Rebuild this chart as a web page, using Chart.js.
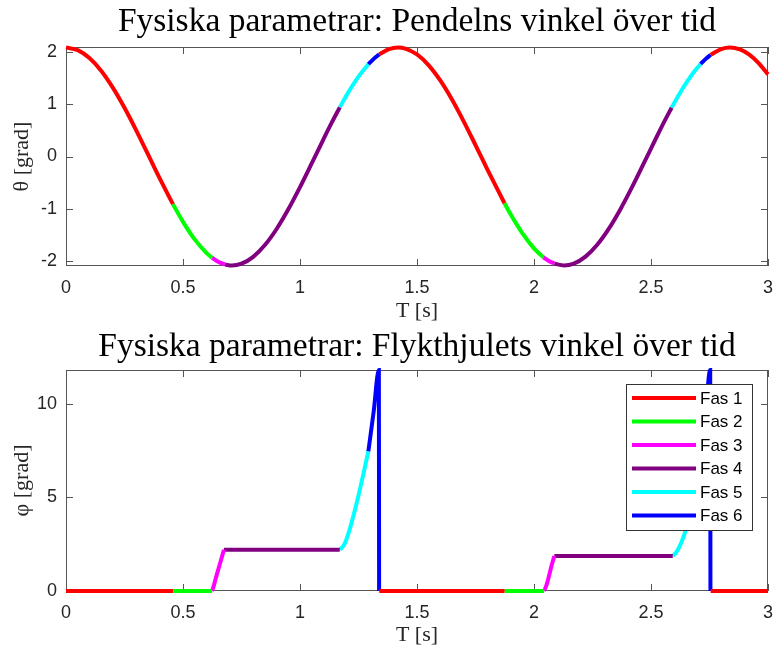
<!DOCTYPE html>
<html>
<head>
<meta charset="utf-8">
<script src="https://cdn.jsdelivr.net/npm/chart.js"></script>
<style>
 body{margin:0;background:#fff;}
 .ruta{position:absolute;left:0;width:777px;}
</style>
</head>
<body>
<div class="ruta" style="top:0;height:325px"><canvas id="chartTheta" width="777" height="325"></canvas></div>
<div class="ruta" style="top:325px;height:324px"><canvas id="chartPhi" width="777" height="324"></canvas></div>
<script>
// [tid, vinkel], null = avbrott mellan perioderna
const fasNamn = ["Fas 1","Fas 2","Fas 3","Fas 4","Fas 5","Fas 6"]
const fasFarg = ["#ff0000","#00ff00","#ff00ff","#800080","#00ffff","#0000ff"]

const xTicks = [0,0.5,1,1.5,2,2.5,3]
const thetaTicks = [-2,-1,0,1,2]
const phiTicks = [0,5,10]

// 1. PENDELNS VINKEL
const fas1Theta = [[0,2.09],[0.05,2.039],[0.1,1.888],[0.15,1.646],[0.2,1.322],[0.25,0.935],[0.3,0.502],[0.35,0.044],[0.4,-0.416],[0.457,-0.914], null,
 [1.339,1.96],[1.38,2.059],[1.419,2.09],[1.45,2.07],[1.5,1.957],[1.55,1.748],[1.6,1.454],[1.65,1.089],[1.7,0.67],[1.75,0.219],[1.8,-0.242],[1.874,-0.897], null,
 [2.755,1.95],[2.8,2.061],[2.838,2.09],[2.88,2.054],[2.92,1.954],[2.96,1.792],[3,1.575]]
const fas2Theta = [[0.457,-0.914],[0.5,-1.253],[0.55,-1.59],[0.6,-1.849],[0.624,-1.942], null,
 [1.874,-0.897],[1.9,-1.109],[1.95,-1.471],[2,-1.761],[2.04,-1.932]]
const fas3Theta = [[0.624,-1.942],[0.65,-2.018],[0.68,-2.072], null,
 [2.04,-1.932],[2.06,-1.994],[2.087,-2.055]]
const fas4Theta = [[0.68,-2.072],[0.709,-2.09],[0.75,-2.056],[0.8,-1.924],[0.85,-1.698],[0.9,-1.39],[0.95,-1.013],[1,-0.587],[1.05,-0.132],[1.1,0.329],[1.135,0.644],[1.17,0.943], null,
 [2.087,-2.055],[2.128,-2.09],[2.17,-2.055],[2.22,-1.921],[2.27,-1.693],[2.32,-1.383],[2.37,-1.005],[2.42,-0.578],[2.47,-0.122],[2.52,0.338],[2.56,0.697],[2.588,0.935]]
const fas5Theta = [[1.17,0.943],[1.2,1.182],[1.25,1.531],[1.292,1.768], null,
 [2.588,0.935],[2.62,1.19],[2.66,1.473],[2.69,1.657],[2.712,1.773]]
const fas6Theta = [[1.292,1.768],[1.315,1.872],[1.339,1.96], null,
 [2.712,1.773],[2.735,1.877],[2.755,1.95]]

// 2. FLYKTHJULETS VINKEL
const fas1Phi = [[0,0],[0.457,0], null, [1.339,0],[1.874,0], null, [2.755,0],[3,0]]
const fas2Phi = [[0.457,0],[0.624,0], null, [1.874,0],[2.043,0]]
const fas3Phi = [[0.624,0],[0.632,0.3],[0.645,0.9],[0.66,1.55],[0.675,2.2], null,
 [2.043,0],[2.053,0.3],[2.065,0.85],[2.075,1.35],[2.087,1.87]]
const fas4Phi = [[0.675,2.2],[1.17,2.2], null, [2.087,1.87],[2.593,1.87]]
const fas5Phi = [[1.17,2.2],[1.19,2.5],[1.21,3.2],[1.23,4.1],[1.25,5.1],[1.27,6.2],[1.292,7.45], null,
 [2.593,1.87],[2.61,2.1],[2.63,2.6],[2.65,3.3],[2.67,4.2],[2.69,5.3],[2.712,6.8]]
const fas6Phi = [[1.292,7.45],[1.315,9.6],[1.337,11.8],[1.338,0], null,
 [2.712,6.8],[2.733,9.4],[2.753,11.8],[2.754,0]]

const serif = "'Liberation Serif', 'Times New Roman', serif"
const sans = "'Liberation Sans', Arial, sans-serif"

function tillPunkter(arr){
 let senaste = 0
 return arr.map(p => {
  if(!p) return {x:senaste, y:null}
  senaste = p[0]
  return {x:p[0], y:p[1]}
 })
}

function byggDatasets(serier){
 return serier.map((s,i) => ({
  label: fasNamn[i],
  data: tillPunkter(s),
  borderColor: fasFarg[i],
  backgroundColor: fasFarg[i],
  borderWidth: 4,
  pointRadius: 0,
  fill: false,
  spanGaps: false,
  cubicInterpolationMode: 'monotone',
  clip: 4
 }))
}

// ram + tickmarks inåt (som matlab)
const ramPlugin = {
 id:'ram',
 beforeDatasetsDraw(chart){
  const {ctx, chartArea:a, scales:{x,y}} = chart
  const L = 7
  ctx.save()
  ctx.strokeStyle = '#555'
  ctx.lineWidth = 1
  ctx.strokeRect(Math.round(a.left)+0.5, Math.round(a.top)+0.5, Math.round(a.width)-1, Math.round(a.height)-1)
  ctx.beginPath()
  x.ticks.forEach(t => {
   const px = Math.round(x.getPixelForValue(t.value))+0.5
   ctx.moveTo(px, a.bottom); ctx.lineTo(px, a.bottom-L)
   ctx.moveTo(px, a.top); ctx.lineTo(px, a.top+L)
  })
  y.ticks.forEach(t => {
   const py = Math.round(y.getPixelForValue(t.value))+0.5
   ctx.moveTo(a.left, py); ctx.lineTo(a.left+L, py)
   ctx.moveTo(a.right, py); ctx.lineTo(a.right-L, py)
  })
  ctx.stroke()
  ctx.restore()
 }
}

// legend inne i nedre plotten
const legendPlugin = {
 id:'fasLegend',
 afterDraw(chart){
  if(chart.canvas.id !== 'chartPhi') return
  const {ctx, chartArea:a} = chart
  const right = a.right-16, top = a.top+14, w = 126, h = 146
  const left = right-w
  ctx.save()
  ctx.fillStyle = '#fff'
  ctx.fillRect(left, top, w, h)
  ctx.strokeStyle = '#333'
  ctx.lineWidth = 1
  ctx.strokeRect(left+0.5, top+0.5, w, h)
  ctx.font = "17px " + sans
  ctx.textBaseline = 'middle'
  chart.data.datasets.forEach((d,i) => {
   const yy = top + 14 + i*23.5
   ctx.strokeStyle = d.borderColor
   ctx.lineWidth = 4
   ctx.beginPath(); ctx.moveTo(left+6, yy); ctx.lineTo(left+70, yy); ctx.stroke()
   ctx.fillStyle = '#000'
   ctx.fillText(d.label, left+74, yy+1)
  })
  ctx.restore()
 }
}

function skapaChart(id, titel, serier, yTitel, yMin, yMax, yTicks, titelPad, xHojd){
 return new Chart(document.getElementById(id), {
  type:'line',
  data:{ datasets: byggDatasets(serier) },
  options:{
   responsive:false,
   animation:false,
   events:[],
   layout:{ padding:{left:0, right:9, top:0, bottom:0} },
   plugins:{
    legend:{display:false},
    tooltip:{enabled:false},
    title:{display:true, fullSize:false, text:titel, color:'#000', font:{family:serif, size:33.5, weight:'normal'}, padding:titelPad}
   },
   scales:{
    x:{
     type:'linear', min:0, max:3,
     afterBuildTicks: s => { s.ticks = xTicks.map(v => ({value:v})) },
     afterFit: s => { s.height = xHojd; s.paddingLeft = 0; s.paddingRight = 0 },
     grid:{display:false, drawTicks:false},
     border:{display:false},
     ticks:{color:'#262626', padding:11, maxRotation:0, font:{family:sans, size:18}, callback: v => String(v)},
     title:{display:true, text:'T [s]', color:'#262626', font:{family:serif, size:22}, padding:{top:0, bottom:1}}
    },
    y:{
     type:'linear', min:yMin, max:yMax,
     afterBuildTicks: s => { s.ticks = yTicks.map(v => ({value:v})) },
     afterFit: s => { s.width = 66 },
     grid:{display:false, drawTicks:false},
     border:{display:false},
     ticks:{color:'#262626', padding:9, font:{family:sans, size:18}, callback: v => String(v)},
     title:{display:true, text:yTitel, color:'#262626', font:{family:serif, size:22}, padding:{top:9, bottom:0}}
    }
   }
  },
  plugins:[ramPlugin, legendPlugin]
 })
}

skapaChart('chartTheta', 'Fysiska parametrar: Pendelns vinkel över tid',
 [fas1Theta,fas2Theta,fas3Theta,fas4Theta,fas5Theta,fas6Theta],
 'θ [grad]', -2.1, 2.1, thetaTicks, {top:2.5, bottom:4.3}, 59)

skapaChart('chartPhi', 'Fysiska parametrar: Flykthjulets vinkel över tid',
 [fas1Phi,fas2Phi,fas3Phi,fas4Phi,fas5Phi,fas6Phi],
 'φ [grad]', 0, 11.8, phiTicks, {top:2, bottom:2.8}, 58)
</script>
</body>
</html>
